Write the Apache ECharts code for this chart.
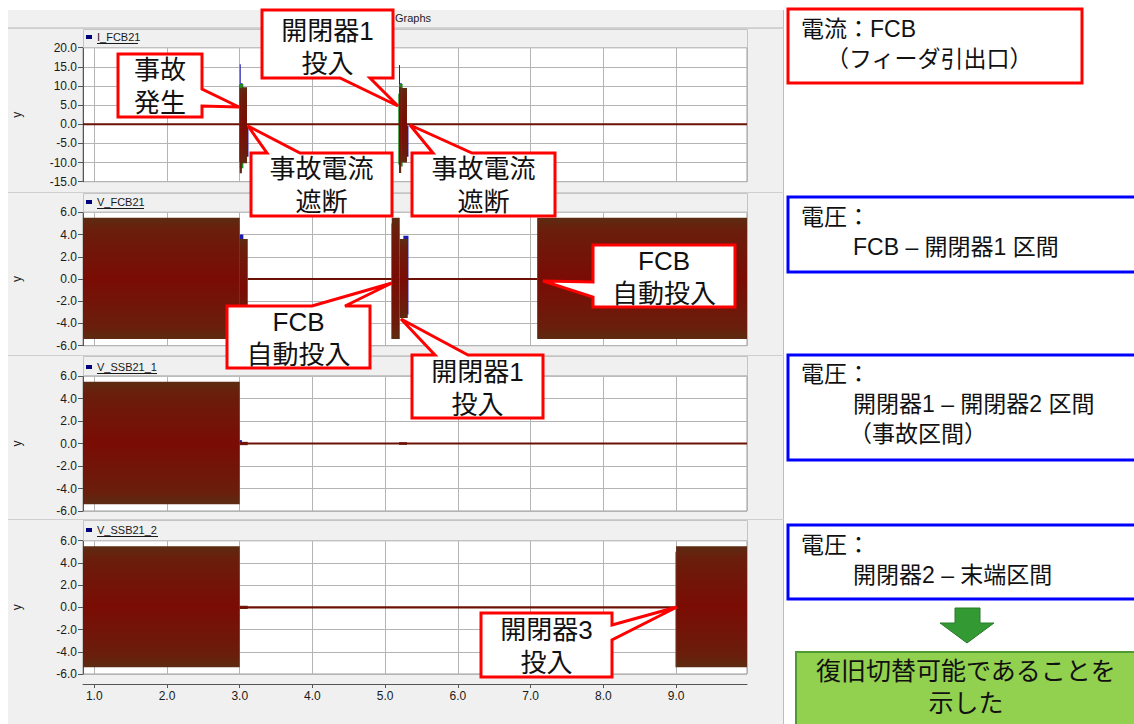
<!DOCTYPE html>
<html>
<head>
<meta charset="utf-8">
<script src="https://cdn.jsdelivr.net/npm/echarts@6/dist/echarts.min.js"></script>
<style>
  html, body { margin: 0; padding: 0; background: #fff; }
  #wrap { position: relative; width: 1134px; height: 724px; overflow: hidden; }
  #bg { position: absolute; left: 8px; top: 10px; width: 776px; height: 714px; background: #f0f0f0; }
  #chart { position: absolute; left: 0; top: 0; width: 1134px; height: 724px; }
</style>
</head>
<body>
<div id="wrap">
  <div id="bg"></div>
  <div id="chart"></div>
</div>
<script>
// time axis (s)
const timeMin = 0.845
const timeMax = 9.975

const panelNames = ['I_FCB21', 'V_FCB21', 'V_SSB21_1', 'V_SSB21_2']
const yMins = [-15, -6, -6, -6]
const yMaxs = [20, 6, 6, 6]
const yIntervals = [5, 2, 2, 2]

// waveform envelopes: [tStart, tEnd, low, high]
const iFcbRed = [
  [0.845, 3.0, 0, 0], [3.0, 3.03, -12.8, 9.5], [3.03, 3.10, -10.2, 9.7],
  [3.10, 5.19, 0, 0], [5.19, 5.22, -12.7, 9.8], [5.22, 5.30, -10.0, 9.5],
  [5.30, 9.975, 0, 0]
]
const iFcbBlue = [
  [3.0, 3.012, -8.0, 15.7], [3.012, 3.04, -9.0, 10.7], [3.10, 3.12, -8.5, -0.3],
  [5.19, 5.202, -8.0, 15.5], [5.202, 5.23, -9.0, 10.7], [5.30, 5.32, -8.5, -0.3]
]
const iFcbGreen = [
  [2.99, 3.0, -10.0, 10.3], [3.0, 3.05, -11.5, 10.5],
  [5.18, 5.19, -10.5, 8.0], [5.19, 5.24, -11.0, 10.5]
]

const vFcbRed = [
  [0.845, 3.0, -5.4, 5.5], [3.0, 3.11, -5.0, 3.6], [3.11, 5.09, 0, 0],
  [5.09, 5.20, -5.4, 5.5], [5.20, 5.31, -3.5, 3.6], [5.31, 7.09, 0, 0],
  [7.09, 9.975, -5.4, 5.5]
]
const vFcbBlue = [
  [3.0, 3.05, -4.5, 4.0], [5.25, 5.32, -3.2, 3.9]
]
const vFcbGreen = [
  [5.085, 5.095, -5.4, 5.0]
]

const vSsb1Red = [
  [0.845, 3.0, -5.4, 5.5], [3.0, 9.975, 0, 0],
  [3.0, 3.11, -0.15, 0.15], [5.19, 5.30, -0.12, 0.12]
]
const vSsb1Blue = [
  [3.0, 3.03, -0.1, 0.3]
]

const vSsb2Red = [
  [0.845, 3.0, -5.4, 5.5], [3.0, 9.0, 0, 0],
  [3.0, 3.11, -0.15, 0.15], [9.0, 9.975, -5.4, 5.5]
]
const vSsb2Green = [
  [8.99, 9.0, -5.4, 5.0]
]

const panelSeries = [
  { red: iFcbRed, blue: iFcbBlue, green: iFcbGreen },
  { red: vFcbRed, blue: vFcbBlue, green: vFcbGreen },
  { red: vSsb1Red, blue: vSsb1Blue, green: [] },
  { red: vSsb2Red, blue: [], green: vSsb2Green }
]

// layout
const plotLeft = 83
const plotWidth = 664
const gridTops = [47.7, 212.3, 376, 540.7]
const gridHeights = [134, 133.4, 135, 133.3]
const panelTops = [28, 192, 355, 519]
const legendYs = [37, 202, 367, 530]
const legendWidths = [41, 47, 60, 61]

const FONT = "'Liberation Sans', Arial, sans-serif"
// latin face first keeps line boxes tight; kana/kanji fall back to Noto CJK
const JFONT = "'Liberation Sans', 'Noto Sans CJK JP', sans-serif"

const redFill = new echarts.graphic.LinearGradient(0, 0, 0, 1, [
  { offset: 0, color: '#5c2c12' },
  { offset: 0.1, color: '#6a1e0c' },
  { offset: 0.5, color: '#7a0c04' },
  { offset: 0.9, color: '#6a1e0c' },
  { offset: 1, color: '#5c2c12' }
])

function bandRenderer (fill, lineColor) {
  return function (params, api) {
    const p0 = api.coord([api.value(0), api.value(3)])
    const p1 = api.coord([api.value(1), api.value(2)])
    let y = p0[1]
    let h = p1[1] - p0[1]
    let f = fill
    if (h < 2.2) {
      y = (p0[1] + p1[1]) / 2 - 1.1
      h = 2.2
      f = lineColor
    }
    return {
      type: 'rect',
      shape: { x: p0[0], y: y, width: Math.max(p1[0] - p0[0], 1), height: h },
      style: { fill: f }
    }
  }
}

const grids = []
const xAxes = []
const yAxes = []
const series = []

panelNames.forEach((name, i) => {
  const last = i === panelNames.length - 1
  grids.push({
    left: plotLeft, width: plotWidth, top: gridTops[i], height: gridHeights[i],
    show: true, backgroundColor: '#fff', borderColor: '#9a9a9a', borderWidth: 1
  })
  xAxes.push({
    gridIndex: i, type: 'value', min: timeMin, max: timeMax,
    splitNumber: 9, minInterval: 1, maxInterval: 1,
    offset: last ? 10 : 0,
    axisLine: { show: last, onZero: false, lineStyle: { color: '#555' } },
    axisTick: { show: last, length: 4, lineStyle: { color: '#555' } },
    axisLabel: {
      show: last, showMinLabel: false, showMaxLabel: false, margin: 6,
      fontFamily: FONT, fontSize: 12, color: '#1a1a1a',
      formatter: v => v.toFixed(1)
    },
    splitLine: { show: true, lineStyle: { color: '#b4b4b4' } }
  })
  yAxes.push({
    gridIndex: i, type: 'value', min: yMins[i], max: yMaxs[i], interval: yIntervals[i],
    name: 'y', nameLocation: 'middle', nameGap: 60,
    nameTextStyle: { fontFamily: FONT, fontSize: 12, color: '#222' },
    axisLine: { show: true, lineStyle: { color: '#555' } },
    axisTick: { show: true, length: 5, lineStyle: { color: '#555' } },
    axisLabel: {
      margin: 6, fontFamily: FONT, fontSize: 12, color: '#1a1a1a',
      formatter: v => v.toFixed(1)
    },
    splitLine: { show: true, lineStyle: { color: '#b4b4b4' } }
  })
  const s = panelSeries[i]
  const layers = [
    [s.blue, '#1c1cae', '#1c1cae'],
    [s.green, '#1f8a1f', '#1f8a1f'],
    [s.red, redFill, '#6b1204']
  ]
  layers.forEach(([data, fill, lineColor]) => {
    if (!data.length) return
    series.push({
      type: 'custom', name: name, xAxisIndex: i, yAxisIndex: i,
      clip: true, silent: true, animation: false,
      encode: { x: [0, 1], y: [2, 3] },
      renderItem: bandRenderer(fill, lineColor),
      data: data
    })
  })
})

// frame, legends, title
const graphic = []
graphic.push({
  type: 'line', z: 1, shape: { x1: 8, y1: 27.5, x2: 784, y2: 27.5 },
  style: { stroke: '#d4d4d4', lineWidth: 1 }
})
graphic.push({
  type: 'line', z: 1, shape: { x1: 783.5, y1: 10, x2: 783.5, y2: 724 },
  style: { stroke: '#bdbdbd', lineWidth: 1 }
})
graphic.push({
  type: 'text', z: 5, style: {
    x: 413, y: 18, text: 'Graphs', font: '11px ' + FONT, fill: '#222',
    textAlign: 'center', textVerticalAlign: 'middle'
  }
})
panelNames.forEach((name, i) => {
  graphic.push({
    type: 'line', z: 1, shape: { x1: 8, y1: panelTops[i] + 0.5, x2: 784, y2: panelTops[i] + 0.5 },
    style: { stroke: '#cfcfcf', lineWidth: 1 }
  })
  graphic.push({
    type: 'rect', z: 1,
    shape: { x: plotLeft + 0.5, y: panelTops[i] + 1.5, width: plotWidth, height: gridTops[i] - panelTops[i] - 1.5 },
    style: { fill: 'none', stroke: '#c4c4c4', lineWidth: 1 }
  })
  graphic.push({
    type: 'rect', z: 5, shape: { x: 86, y: legendYs[i] - 2, width: 6, height: 4 },
    style: { fill: '#00007a' }
  })
  graphic.push({
    type: 'text', z: 5, style: {
      x: 97, y: legendYs[i], text: name, font: '11px ' + FONT, fill: '#1a1a1a',
      textVerticalAlign: 'middle'
    }
  })
  graphic.push({
    type: 'line', z: 5,
    shape: { x1: 97, y1: legendYs[i] + 6.5, x2: 97 + legendWidths[i], y2: legendYs[i] + 6.5 },
    style: { stroke: '#1a1a1a', lineWidth: 1 }
  })
})

// callouts on the chart
const callouts = [
  { text: '事故\n発生', box: [118, 54, 202, 117], side: 'right', tail: [89, 106], tip: [239, 107], cy: 86 },
  { text: '開閉器1\n投入', box: [262, 10, 393, 78], side: 'bottom', tail: [340, 370], tip: [398, 106], cy: 47 },
  { text: '事故電流\n遮断', box: [251, 153, 392, 216], side: 'top', tail: [267, 300], tip: [248, 126], cy: 185 },
  { text: '事故電流\n遮断', box: [412, 153, 555, 216], side: 'top', tail: [433, 472], tip: [410, 125], cy: 185 },
  { text: 'FCB\n自動投入', box: [593, 245, 735, 307], side: 'left', tail: [282, 297], tip: [543, 281], cy: 277 },
  { text: 'FCB\n自動投入', box: [227, 306, 370, 368], side: 'top', tail: [312, 345], tip: [392, 283], cy: 338 },
  { text: '開閉器1\n投入', box: [412, 355, 543, 418], side: 'top', tail: [435, 468], tip: [401, 319], cy: 388 },
  { text: '開閉器3\n投入', box: [481, 613, 612, 677], side: 'right', tail: [625, 640], tip: [677, 607], cy: 646 }
]

function calloutPoints (c) {
  const [x0, y0, x1, y1] = c.box
  const [a, b] = c.tail
  const t = c.tip
  if (c.side === 'top') return [[x0, y0], [a, y0], t, [b, y0], [x1, y0], [x1, y1], [x0, y1]]
  if (c.side === 'bottom') return [[x0, y0], [x1, y0], [x1, y1], [b, y1], t, [a, y1], [x0, y1]]
  if (c.side === 'right') return [[x0, y0], [x1, y0], [x1, a], t, [x1, b], [x1, y1], [x0, y1]]
  return [[x0, y0], [x1, y0], [x1, y1], [x0, y1], [x0, b], t, [x0, a]]
}

callouts.forEach(c => {
  graphic.push({
    type: 'polygon', z: 50, shape: { points: calloutPoints(c) },
    style: { fill: '#fff', stroke: '#ff0000', lineWidth: 3, lineJoin: 'miter' }
  })
  graphic.push({
    type: 'text', z: 51, style: {
      x: (c.box[0] + c.box[2]) / 2, y: c.cy,
      text: c.text, font: '26px ' + JFONT, lineHeight: 33, fill: '#111',
      textAlign: 'center', textVerticalAlign: 'middle'
    }
  })
})

// side notes: lines are [text, indent]
const notes = [
  { box: [788, 9, 1082, 83], color: '#ff0000', top: 14, lines: [['電流：FCB', 0], ['（フィーダ引出口）', 25]] },
  { box: [788, 197, 1145, 272], color: '#0000ff', top: 202, lines: [['電圧：', 0], ['FCB – 開閉器1 区間', 52]] },
  { box: [788, 355, 1145, 460], color: '#0000ff', top: 359, lines: [['電圧：', 0], ['開閉器1 – 開閉器2 区間', 52], ['（事故区間）', 48]] },
  { box: [788, 525, 1145, 599], color: '#0000ff', top: 530, lines: [['電圧：', 0], ['開閉器2 – 末端区間', 52]] }
]
notes.forEach(n => {
  const [x0, y0, x1, y1] = n.box
  graphic.push({
    type: 'rect', z: 50, shape: { x: x0, y: y0, width: x1 - x0, height: y1 - y0 },
    style: { fill: '#fff', stroke: n.color, lineWidth: 3 }
  })
  const rich = {}
  n.lines.forEach(([t, indent], k) => {
    rich['l' + k] = { padding: [0, 0, 0, indent], font: '23px ' + JFONT, lineHeight: 30, fill: '#111' }
  })
  graphic.push({
    type: 'text', z: 51, style: {
      x: 801, y: n.top,
      text: n.lines.map(([t], k) => '{l' + k + '|' + t + '}').join('\n'),
      rich: rich, font: '23px ' + JFONT, lineHeight: 30, fill: '#111', textVerticalAlign: 'top'
    }
  })
})

graphic.push({
  type: 'polygon', z: 50,
  shape: { points: [[955, 608], [980, 608], [980, 623], [994, 623], [967, 643], [940, 623], [955, 623]] },
  style: { fill: '#339a33', stroke: '#2a7a2a', lineWidth: 1 }
})
graphic.push({
  type: 'rect', z: 50, shape: { x: 796, y: 652, width: 350, height: 80 },
  style: { fill: '#92d050', stroke: '#4f9a35', lineWidth: 2 }
})
graphic.push({
  type: 'text', z: 51, style: {
    x: 966, y: 687, text: '復旧切替可能であることを\n示した', font: '25px ' + JFONT,
    lineHeight: 32, fill: '#111', textAlign: 'center', textVerticalAlign: 'middle'
  }
})

const chart = echarts.init(document.getElementById('chart'), null, { renderer: 'svg' })
chart.setOption({
  animation: false,
  backgroundColor: 'transparent',
  grid: grids,
  xAxis: xAxes,
  yAxis: yAxes,
  series: series,
  graphic: graphic
})
</script>
</body>
</html>
